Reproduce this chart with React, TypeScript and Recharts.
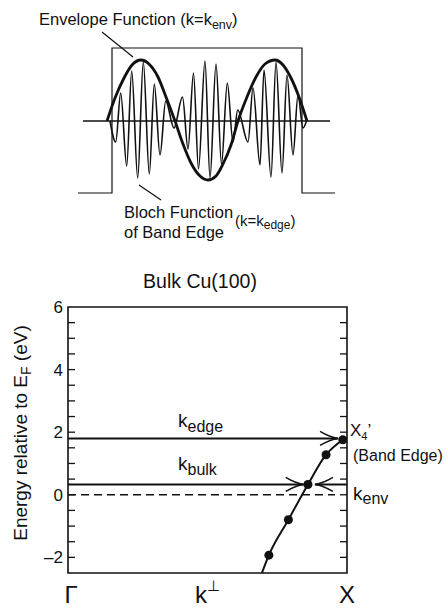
import React from 'react';
import {
  ComposedChart,
  LineChart,
  Line,
  Scatter,
  XAxis,
  YAxis,
  ReferenceLine,
  ReferenceArea,
} from 'recharts';

const FONT = '"Liberation Sans", Arial, Helvetica, sans-serif';
const INK = '#111';

// ---- top panel: envelope vs Bloch function inside the slab ----
// x runs along the slab (0 = left edge of the envelope), y is the amplitude
const boxX = [-29, 5, 5, 195, 195, 228];
const boxY = [-72, -72, 73, 73, -72, -72];
const baseX = [-24, 223];
const envX = [0, 8, 17, 25, 34, 42, 51, 59, 68, 76, 84, 93, 101, 109, 116, 124, 131, 140, 149, 158, 168, 176, 184, 192, 200];
const envY = [0, 23, 43, 56, 61, 57, 44, 24, 0, -23, -42, -55, -59, -55, -43, -24, 0, 24, 44, 57, 61, 56, 43, 24, 0];
const blochX = [
  3, 8.7, 13.7, 19.7, 24.7, 30.7, 36.3, 42.3, 47.3, 53, 58.7, 67, 75.5, 81, 86.5, 91.5, 98, 103,
  109, 114.5, 120.3, 126, 130.7, 141, 146, 153, 157, 164, 169, 175, 180, 186, 191, 196, 199.5,
];
const blochY = [
  0, -21, 28, -45, 50, -57, 59, -53, 37, -34, 20, -7, 24, -28, 48, -48, 60, -57,
  57, -43, 38, -21, 11, -21, 33, -44, 51, -56, 59, -52, 46, -34, 26, -7, 0,
];

// ---- bottom panel: bulk Cu(100) band along Gamma-X ----
const bandK = [0.695, 0.72, 0.79, 0.86, 0.925, 0.985];
const bandE = [-2.5, -1.93, -0.8, 0.33, 1.28, 1.76];
const dotK = [0.72, 0.79, 0.86, 0.925, 0.985];
const dotE = [-1.93, -0.8, 0.33, 1.28, 1.76];
const E_EDGE = 1.8;
const E_BULK = 0.33;
const edgeArrowK = [0, 0.968];
const bulkArrowK = [0, 0.845];
const envArrowK = [1, 0.885];
const fermiK = [0, 0.957];
const yTicks = [-2.5, -2, -1.5, -1, -0.5, 0, 0.5, 1, 1.5, 2, 2.5, 3, 3.5, 4, 4.5, 5, 5.5, 6];
const yLabels = [-2, 0, 2, 4, 6];
const xTicks = [0, 0.5, 1];
const xTickNames = ['Γ', 'k', 'X'];

const zip = (xs: number[], ys: number[], kx = 'x', ky = 'y') =>
  xs.map((v, i) => ({ [kx]: v, [ky]: ys[i] }));
const flat = (xs: number[], e: number) => xs.map((k) => ({ k, E: e }));

const TopPanel = () => (
  <LineChart width={445} height={245} margin={{ top: 0, right: 0, bottom: 0, left: 0 }}>
    <XAxis type="number" dataKey="x" domain={[-107, 338]} hide />
    <YAxis type="number" domain={[-124, 121]} hide width={0} />
    <Line data={zip(boxX, boxY)} dataKey="y" type="linear" stroke={INK} strokeWidth={1.2} dot={false} activeDot={false} isAnimationActive={false} />
    <Line data={zip(baseX, [0, 0])} dataKey="y" type="linear" stroke={INK} strokeWidth={1.6} dot={false} activeDot={false} isAnimationActive={false} />
    <Line data={zip(blochX, blochY)} dataKey="y" type="monotone" stroke={INK} strokeWidth={1.6} dot={false} activeDot={false} isAnimationActive={false} />
    <Line data={zip(envX, envY)} dataKey="y" type="monotone" stroke={INK} strokeWidth={2.8} dot={false} activeDot={false} isAnimationActive={false} />
    <ReferenceLine segment={[{ x: -5, y: 89 }, { x: 26, y: 64 }]} stroke={INK} strokeWidth={1.2} ifOverflow="visible" />
    <ReferenceLine segment={[{ x: 32, y: -64 }, { x: 54, y: -79 }]} stroke={INK} strokeWidth={1.2} ifOverflow="visible" />
    <text x={39} y={25} fontSize={16.5} fontFamily={FONT} fill={INK}>
      Envelope Function (k=k
      <tspan fontSize={12.5} dy={4}>env</tspan>
      <tspan dy={-4}>)</tspan>
    </text>
    <text x={124} y={218} fontSize={16.5} fontFamily={FONT} fill={INK}>Bloch Function</text>
    <text x={124} y={238} fontSize={16.5} fontFamily={FONT} fill={INK}>of Band Edge</text>
    <text x={235} y={226} fontSize={15} fontFamily={FONT} fill={INK}>
      (k=k
      <tspan fontSize={12} dy={3}>edge</tspan>
      <tspan dy={-3}>)</tspan>
    </text>
  </LineChart>
);

const LeftTick = (props: any) => {
  const { x, y, payload } = props;
  const v = payload.value as number;
  const edge = x + 5;
  return (
    <g>
      {v > -2.5 && v < 6 && <line x1={edge} x2={edge + 7} y1={y} y2={y} stroke={INK} strokeWidth={1.3} />}
      {yLabels.includes(v) && (
        <text x={x} y={y} dy={6} textAnchor="end" fontSize={17} fontFamily={FONT} fill={INK}>
          {v < 0 ? `–${-v}` : v}
        </text>
      )}
    </g>
  );
};

const RightTick = (props: any) => {
  const { x, y, payload } = props;
  const v = payload.value as number;
  if (v <= -2.5 || v >= 6) return <g />;
  return <line x1={x - 7} x2={x} y1={y} y2={y} stroke={INK} strokeWidth={1.3} />;
};

const KTick = (props: any) => {
  const { x, y, payload } = props;
  const i = xTicks.indexOf(payload.value);
  return (
    <text x={x + (i === 0 ? 3 : 0)} y={y} dy={30} textAnchor="middle" fontSize={24} fontFamily={FONT} fill={INK}>
      {xTickNames[i]}
      {i === 1 && <tspan fontSize={15} dy={-12}>⊥</tspan>}
    </text>
  );
};

const BandPanel = () => (
  <ComposedChart width={445} height={366} margin={{ top: 62, right: 90, bottom: 8, left: 8 }}>
    <defs>
      <marker id="chev" viewBox="-20 -10 22 20" refX={0} refY={0} markerWidth={22} markerHeight={20}
        markerUnits="userSpaceOnUse" orient="auto" overflow="visible">
        <path d="M-18,-7 Q-8,-1 0,0 Q-8,1 -18,7" fill="none" stroke={INK} strokeWidth={1.5} />
      </marker>
    </defs>
    <XAxis type="number" dataKey="k" domain={[0, 1]} ticks={xTicks} interval={0} tick={<KTick />}
      tickLine={false} axisLine={false} tickSize={0} tickMargin={0} height={30} allowDataOverflow />
    <YAxis yAxisId="l" type="number" domain={[-2.5, 6]} ticks={yTicks} interval={0} tick={<LeftTick />}
      tickLine={false} axisLine={false} tickSize={0} tickMargin={5} width={60} allowDataOverflow />
    <YAxis yAxisId="r" orientation="right" type="number" domain={[-2.5, 6]} ticks={yTicks} interval={0}
      tick={<RightTick />} tickLine={false} axisLine={false} tickSize={0} tickMargin={0} width={8} allowDataOverflow />
    <ReferenceArea yAxisId="l" x1={0} x2={1} y1={-2.5} y2={6} fill="none" fillOpacity={0} stroke={INK} strokeWidth={1.6} />
    <Line yAxisId="l" data={flat(fermiK, 0)} dataKey="E" type="linear" stroke={INK} strokeWidth={1.5}
      strokeDasharray="8 5" dot={false} isAnimationActive={false} />
    <Line yAxisId="l" data={flat(edgeArrowK, E_EDGE)} dataKey="E" type="linear" stroke={INK} strokeWidth={2}
      dot={false} markerEnd="url(#chev)" isAnimationActive={false} />
    <Line yAxisId="l" data={flat(bulkArrowK, E_BULK)} dataKey="E" type="linear" stroke={INK} strokeWidth={2}
      dot={false} markerEnd="url(#chev)" isAnimationActive={false} />
    <Line yAxisId="l" data={flat(envArrowK, E_BULK)} dataKey="E" type="linear" stroke={INK} strokeWidth={2}
      dot={false} markerEnd="url(#chev)" isAnimationActive={false} />
    <Line yAxisId="l" data={zip(bandK, bandE, 'k', 'E')} dataKey="E" type="monotone" stroke={INK} strokeWidth={2}
      dot={false} isAnimationActive={false} />
    <Scatter yAxisId="l" data={zip(dotK, dotE, 'k', 'E')} dataKey="E" fill={INK} shape="circle" isAnimationActive={false} />
    <text x={200} y={43} textAnchor="middle" fontSize={19.5} fontFamily={FONT} fill={INK}>Bulk Cu(100)</text>
    <text x={0} y={0} transform="translate(27,188) rotate(-90)" textAnchor="middle" fontSize={19} fontFamily={FONT} fill={INK}>
      Energy relative to E
      <tspan fontSize={14} dy={4}>F</tspan>
      <tspan dy={-4}> (eV)</tspan>
    </text>
    <text x={178} y={182} fontSize={19} fontFamily={FONT} fill={INK}>
      k<tspan fontSize={16} dy={5}>edge</tspan>
    </text>
    <text x={178} y={225} fontSize={19} fontFamily={FONT} fill={INK}>
      k<tspan fontSize={16} dy={5}>bulk</tspan>
    </text>
    <text x={350} y={191} fontSize={17} fontFamily={FONT} fill={INK}>
      X<tspan fontSize={11} dy={4}>4</tspan>
      <tspan dy={-4}>’</tspan>
    </text>
    <text x={353} y={216} fontSize={16} fontFamily={FONT} fill={INK}>(Band Edge)</text>
    <text x={353} y={255} fontSize={19} fontFamily={FONT} fill={INK}>
      k<tspan fontSize={16} dy={4}>env</tspan>
    </text>
  </ComposedChart>
);

export default function App() {
  return (
    <div style={{ position: 'absolute', left: 0, top: 0, width: 445, height: 611, background: '#fff' }}>
      <div style={{ position: 'absolute', left: 0, top: 0 }}>
        <TopPanel />
      </div>
      <div style={{ position: 'absolute', left: 0, top: 245 }}>
        <BandPanel />
      </div>
    </div>
  );
}
